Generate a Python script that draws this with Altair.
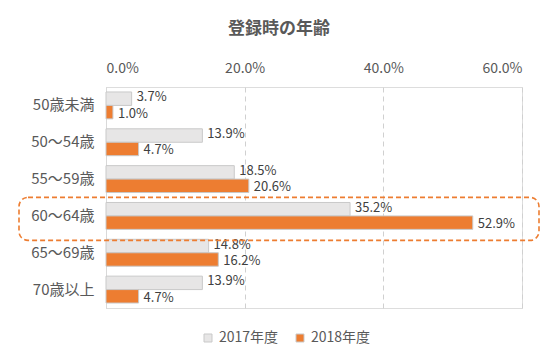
import altair as alt
import pandas as pd

categories = ["50歳未満", "50〜54歳", "55〜59歳", "60〜64歳", "65〜69歳", "70歳以上"]
series = ["2017年度", "2018年度"]
values_2017 = [0.037, 0.139, 0.185, 0.352, 0.148, 0.139]
values_2018 = [0.010, 0.047, 0.206, 0.529, 0.162, 0.047]
x_ticks = [0.0, 0.2, 0.4, 0.6]
highlight = ["60〜64歳"]

rows = []
for c, v in zip(categories, values_2017):
    rows.append({"cat": c, "series": series[0], "value": v})
for c, v in zip(categories, values_2018):
    rows.append({"cat": c, "series": series[1], "value": v})
df = pd.DataFrame(rows)
hl = pd.DataFrame({"cat": highlight})

FONT = "Noto Sans CJK JP"
W, H = 416, 221

y_enc = alt.Y("cat:N", sort=categories,
              scale=alt.Scale(domain=categories, paddingInner=0.27, paddingOuter=0.135),
              axis=alt.Axis(title=None, orient="left", ticks=False, domain=True,
                            domainColor="#D9D9D9", labelPadding=12, labelFontSize=15,
                            labelColor="#595959", labelFont=FONT, grid=False))
x_enc = alt.X("value:Q",
              scale=alt.Scale(domain=[0, 0.6], nice=False),
              axis=alt.Axis(title=None, orient="top", values=x_ticks, format=".1%",
                            ticks=False, domain=False, grid=True, gridDash=[5, 4],
                            gridColor="#D0D0D0", labelPadding=12, labelFontSize=14,
                            labelColor="#595959", labelFont=FONT))
yoff = alt.YOffset("series:N", sort=series, scale=alt.Scale(domain=series, paddingInner=0, paddingOuter=0))

bars = alt.Chart(df).mark_bar(stroke="#C9C9C9", strokeWidth=1).encode(
    x=x_enc,
    y=y_enc,
    yOffset=yoff,
    color=alt.Color("series:N", sort=series,
                    scale=alt.Scale(domain=series, range=["#E7E6E6", "#ED7D31"]),
                    legend=alt.Legend(title=None, orient="none", direction="horizontal",
                                      legendX=95, legendY=244, symbolType="square",
                                      symbolSize=64, symbolStrokeColor="#C9C9C9",
                                      symbolStrokeWidth=1, labelFontSize=14,
                                      labelColor="#595959", labelFont=FONT,
                                      columnPadding=14, symbolOffset=0, labelOffset=4)),
)


def label_layer(name, dy):
    return alt.Chart(df).transform_filter(alt.datum.series == name).mark_text(
        align="left", baseline="middle", dx=5, dy=dy, fontSize=13,
        color="#404040", font=FONT).encode(
        x=alt.X("value:Q"),
        y=alt.Y("cat:N", sort=categories),
        yOffset=alt.YOffset("series:N", sort=series),
        text=alt.Text("value:Q", format=".1%"),
    )


labels_a = label_layer(series[0], -1.5)
labels_b = label_layer(series[1], 1.5)

box = alt.Chart(hl).mark_rect(filled=False, color="#ED7D31", stroke="#ED7D31",
                              strokeDash=[5, 3], strokeWidth=1.6, cornerRadius=9,
                              height=43, yOffset=3).encode(
    y=alt.Y("cat:N", sort=categories),
    x=alt.value(-87),
    x2=alt.value(W + 17),
)

chart = alt.layer(bars, labels_a, labels_b, box).properties(
    width=W, height=H,
    title=alt.TitleParams("登録時の年齢", fontSize=17, fontWeight="bold", color="#595959",
                          font=FONT, anchor="middle", frame="bounds", offset=23),
    padding={"left": 10, "top": 12, "right": 5, "bottom": 5},
).configure_view(stroke="#D9D9D9", strokeWidth=1).configure(background="white")

chart.save("out.html", embed_options={"renderer": "svg", "actions": False})
